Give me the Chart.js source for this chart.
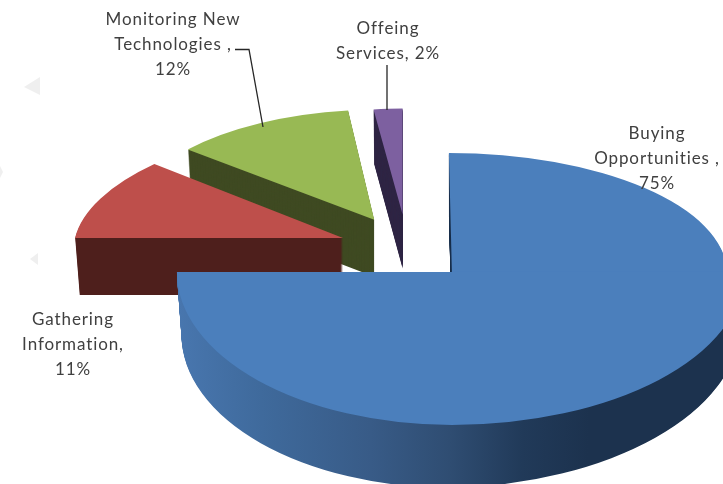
<!DOCTYPE html>
<html>
<head>
<meta charset="utf-8">
<style>html,body{margin:0;padding:0;background:#fff;overflow:hidden}canvas{display:block;filter:blur(0.4px)}</style>
<script src="https://cdn.jsdelivr.net/npm/chart.js@4"></script>
</head>
<body>
<canvas id="c" width="723" height="484"></canvas>
<script>
const categories = ['Buying Opportunities', 'Gathering Information', 'Monitoring New Technologies', 'Offeing Services'];
const shares = [75, 11, 12, 2];
const labelLines = [
  ['Buying', 'Opportunities ,', '75%'],
  ['Gathering', 'Information,', '11%'],
  ['Monitoring New', 'Technologies ,', '12%'],
  ['Offeing', 'Services, 2%']
];
const faceColors = ['#4b7fbc', '#be4f4b', '#98b954', '#7d60a0'];
const sideColors = ['#1c324e', '#4e1f1c', '#3f4a22', '#2f2544'];
const explode = [127, 136, 136, 140];

// Look of the tilted pie: how each slice is foreshortened and how tall its wall is.
const TILT = 0.5, TAPER = 0.017, R = 275;
const wallDepth = [63, 57, 57, 54];
const blueWall = [[177,'#4876ae'],[260,'#3f6a9c'],[370,'#385b87'],[450,'#2f4d72'],[523,'#213a59'],[590,'#1c324e'],[723,'#1c324e']];
const sliceParts = [
  [ {rx:275, ry:119, shift:3,  q:'tr'},
    {rx:275, ry:153, shift:0,  q:'bl', grad:true},
    {rx:292, ry:153, shift:0,  q:'br', grad:true, rise:0.025} ],
  [ {rx:268, ry:116, shift:-28} ],
  [ {rx:246, ry:110, shift:-4.75} ],
  [ {rx:232, ry:106, shift:0} ]
];
const labelAnchors = [[657,134],[73,320],[173,20],[388,29]];
const LINE_H = 25;
const leaders = [[[235,49.5],[249,49.5],[263,127]], [[387,65],[387,110]]];
const watermarks = [[[24,87],[40,77],[40,95]], [[30,259],[38,253],[38,265]], [[0,166],[3,172],[0,178]]];

const pie3d = {
  id: 'pie3d',
  beforeDatasetsDraw(chart) {
    const ctx = chart.ctx;
    const arcs = chart.getDatasetMeta(0).data;
    const order = [3, 2, 1, 0];
    for (const i of order) {
      const arc = arcs[i];
      const base = arc.options;
      const mid = (arc.startAngle + arc.endAngle) / 2;
      const off = (base.offset || 0) / 2;
      const Sx = arc.x + Math.cos(mid) * off;
      const Sy = arc.y + Math.sin(mid) * off * TILT;
      const depth = wallDepth[i];
      const paint = (d, fill) => {
        const t = 1 - TAPER * d / depth;
        for (const p of sliceParts[i]) {
          ctx.save();
          if (p.q) {
            const x0 = p.q === 'br' ? Sx - 0.5 : p.q === 'tr' ? Sx - 30 : Sx - 400;
            const x1 = p.q === 'bl' ? Sx + 0.5 : Sx + 400;
            const y0 = p.q === 'tr' ? Sy + d - 400 : Sy + d - 0.5;
            const y1 = p.q === 'tr' ? Sy + d + 0.5 : Sy + d + 400;
            ctx.beginPath(); ctx.rect(x0, y0, x1 - x0, y1 - y0); ctx.clip();
          }
          ctx.translate(Sx, Sy + d);
          if (p.rise) ctx.transform(1, -p.rise * d / depth, 0, 1, 0, 0);
          ctx.scale(t, 1);
          ctx.transform(1, 0, p.shift / p.ry, 1, 0, 0);
          ctx.scale(p.rx / R, p.ry / R);
          ctx.translate(-arc.x, -arc.y);
          let color = fill;
          if (d > 0 && p.grad) {
            const k = p.rx / R;
            const lx = X => arc.x + (X - Sx) / k;
            const g = ctx.createLinearGradient(lx(blueWall[0][0]), 0, lx(blueWall[blueWall.length - 1][0]), 0);
            const span = blueWall[blueWall.length - 1][0] - blueWall[0][0];
            for (const [X, c] of blueWall) g.addColorStop((X - blueWall[0][0]) / span, c);
            color = g;
          }
          arc.options = Object.assign({}, base, {offset: 0, backgroundColor: color, borderWidth: 0});
          arc.draw(ctx);
          arc.options = base;
          ctx.restore();
        }
      };
      for (let d = depth; d >= 1; d--) paint(d, sideColors[i]);
      paint(0, faceColors[i]);
    }
    return false;
  },
  beforeDraw(chart) {
    const ctx = chart.ctx;
    ctx.save();
    ctx.fillStyle = '#efefef';
    for (const tri of watermarks) {
      ctx.beginPath();
      tri.forEach(([x, y], n) => n ? ctx.lineTo(x, y) : ctx.moveTo(x, y));
      ctx.closePath(); ctx.fill();
    }
    ctx.restore();
  },
  afterDraw(chart) {
    const ctx = chart.ctx;
    ctx.save();
    ctx.strokeStyle = '#262626';
    ctx.lineWidth = 1.3;
    for (const line of leaders) {
      ctx.beginPath();
      line.forEach(([x, y], n) => n ? ctx.lineTo(x, y) : ctx.moveTo(x, y));
      ctx.stroke();
    }
    ctx.fillStyle = '#404040';
    ctx.font = '17px Lato';
    ctx.letterSpacing = '0.9px';
    ctx.textAlign = 'center';
    ctx.textBaseline = 'middle';
    labelLines.forEach((lines, i) => {
      lines.forEach((s, n) => ctx.fillText(s, labelAnchors[i][0], labelAnchors[i][1] + n * LINE_H));
    });
    ctx.restore();
  }
};

new Chart(document.getElementById('c'), {
  type: 'pie',
  data: {
    labels: categories,
    datasets: [{ data: shares, backgroundColor: faceColors, offset: explode, borderWidth: 0 }]
  },
  options: {
    responsive: false,
    animation: false,
    radius: R,
    layout: { padding: { left: 91, top: 15 } },
    plugins: { legend: { display: false }, tooltip: { enabled: false } }
  },
  plugins: [pie3d]
});
</script>
</body>
</html>
